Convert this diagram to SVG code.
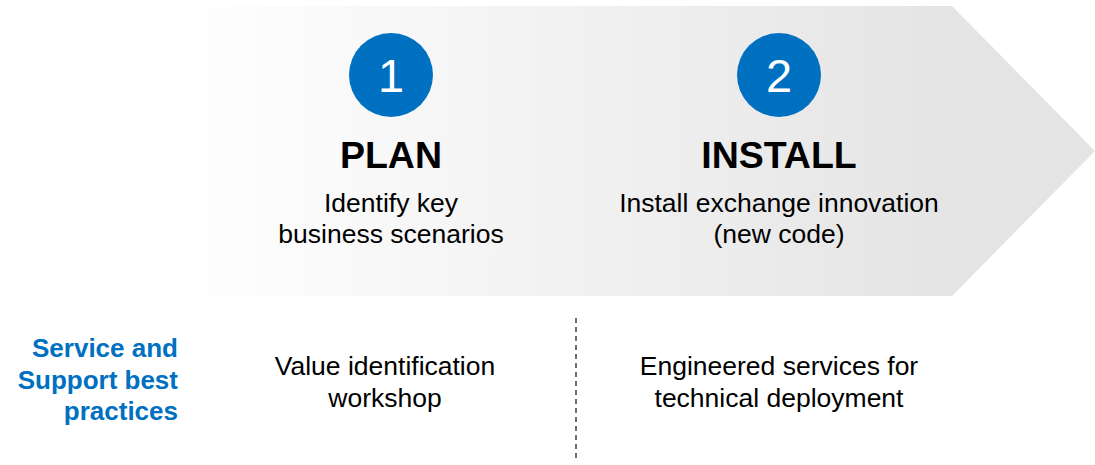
<svg xmlns="http://www.w3.org/2000/svg" width="1095" height="465" viewBox="0 0 1095 465">
<defs>
<linearGradient id="g" x1="180" y1="0" x2="960" y2="0" gradientUnits="userSpaceOnUse">
<stop offset="0" stop-color="#ffffff"/>
<stop offset="1" stop-color="#e4e4e4"/>
</linearGradient>
<style>
.num{font-family:"Liberation Sans",Arial,sans-serif;font-size:47px;fill:#fff;text-anchor:middle}
.ttl{font-family:"Liberation Sans",Arial,sans-serif;font-size:37.5px;font-weight:bold;fill:#000;text-anchor:middle}
.txt{font-family:"Liberation Sans",Arial,sans-serif;font-size:26.5px;fill:#000;text-anchor:middle}
.lbl{font-family:"Liberation Sans",Arial,sans-serif;font-size:26px;font-weight:bold;fill:#0070C0;text-anchor:end}
.circ{fill:#0070C0}
</style>
</defs>
<g id="arrow">
<polygon points="180,6 952,6 1095,151 952,296 180,296" fill="url(#g)"/>
</g>
<g id="step1">
<circle class="circ" cx="391" cy="75" r="42"/>
<text class="num" x="391" y="92">1</text>
<text class="ttl" x="391" y="168">PLAN</text>
<text class="txt" x="391" y="212">Identify key</text>
<text class="txt" x="391" y="243">business scenarios</text>
</g>
<g id="step2">
<circle class="circ" cx="779" cy="75" r="42"/>
<text class="num" x="779" y="92">2</text>
<text class="ttl" x="779" y="168">INSTALL</text>
<text class="txt" x="779" y="212">Install exchange innovation</text>
<text class="txt" x="779" y="243">(new code)</text>
</g>
<g id="label">
<text class="lbl" x="178" y="357">Service and</text>
<text class="lbl" x="178" y="389">Support best</text>
<text class="lbl" x="178" y="420">practices</text>
</g>
<g id="service1">
<text class="txt" x="385" y="375">Value identification</text>
<text class="txt" x="385" y="407">workshop</text>
</g>
<g id="service2">
<text class="txt" x="779" y="375">Engineered services for</text>
<text class="txt" x="779" y="407">technical deployment</text>
</g>
<g id="connectors">
<line x1="576" y1="318" x2="576" y2="462" stroke="#404040" stroke-width="1.5" stroke-dasharray="5,4"/>
</g>
</svg>
